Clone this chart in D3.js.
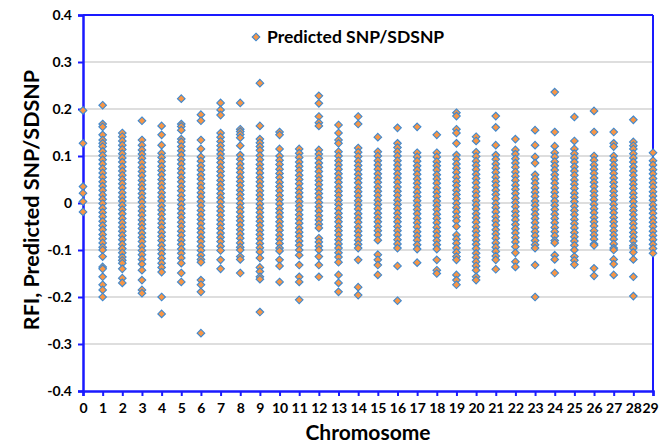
<!DOCTYPE html>
<html>
<head>
<meta charset="utf-8">
<script src="https://cdn.jsdelivr.net/npm/d3@7"></script>
<style>
  html, body { margin: 0; padding: 0; background: #fff; }
  svg text { font-family: Lato, "Open Sans", sans-serif; font-weight: bold; fill: #000; }
</style>
</head>
<body>
<svg id="chart" width="660" height="446"></svg>
<script>
// ---- Data ----
const chromosomes = [0,1,2,3,4,5,6,7,8,9,10,11,12,13,14,15,16,17,18,19,20,21,22,23,24,25,26,27,28,29];
const yTicks = [-0.4,-0.3,-0.2,-0.1,0,0.1,0.2,0.3,0.4];
const seriesName = "Predicted SNP/SDSNP";
// Predicted SNP/SDSNP values (RFI) per chromosome
const chr0  = [0.197,0.127,0.035,0.021,0.003,-0.019];
const chr1  = [0.208,0.168,0.162,0.145,0.134,0.127,0.12,0.11,0.101,0.092,0.083,0.073,0.064,0.055,0.045,0.036,0.027,0.017,0.008,-0.001,-0.011,-0.02,-0.029,-0.039,-0.048,-0.057,-0.067,-0.076,-0.085,-0.094,-0.1,-0.114,-0.136,-0.14,-0.157,-0.174,-0.185,-0.2];
const chr2  = [0.149,0.141,0.132,0.123,0.114,0.105,0.096,0.087,0.077,0.068,0.059,0.05,0.041,0.032,0.022,0.013,0.004,-0.005,-0.014,-0.023,-0.033,-0.042,-0.051,-0.06,-0.069,-0.078,-0.088,-0.097,-0.106,-0.115,-0.122,-0.128,-0.14,-0.16,-0.17];
const chr3  = [0.175,0.134,0.123,0.113,0.104,0.095,0.086,0.076,0.067,0.058,0.048,0.039,0.03,0.02,0.011,0.002,-0.008,-0.017,-0.026,-0.036,-0.045,-0.054,-0.064,-0.073,-0.082,-0.092,-0.101,-0.11,-0.12,-0.13,-0.143,-0.164,-0.185,-0.192];
const chr4  = [0.164,0.145,0.123,0.106,0.097,0.088,0.078,0.069,0.06,0.05,0.041,0.032,0.022,0.013,0.004,-0.006,-0.015,-0.024,-0.034,-0.043,-0.052,-0.062,-0.071,-0.08,-0.09,-0.099,-0.108,-0.118,-0.128,-0.137,-0.147,-0.2,-0.236];
const chr5  = [0.222,0.168,0.163,0.155,0.136,0.13,0.12,0.111,0.102,0.092,0.083,0.073,0.064,0.054,0.045,0.035,0.026,0.016,0.007,-0.003,-0.012,-0.022,-0.031,-0.041,-0.05,-0.06,-0.069,-0.079,-0.088,-0.098,-0.107,-0.117,-0.128,-0.149,-0.168];
const chr6  = [0.188,0.175,0.134,0.115,0.098,0.089,0.079,0.07,0.06,0.051,0.041,0.032,0.022,0.013,0.003,-0.006,-0.016,-0.025,-0.035,-0.044,-0.054,-0.063,-0.073,-0.082,-0.092,-0.101,-0.111,-0.12,-0.126,-0.164,-0.174,-0.189,-0.277];
const chr7  = [0.213,0.198,0.187,0.149,0.14,0.131,0.122,0.113,0.104,0.095,0.086,0.076,0.067,0.058,0.048,0.039,0.03,0.02,0.011,0.002,-0.008,-0.017,-0.026,-0.036,-0.045,-0.054,-0.064,-0.073,-0.082,-0.092,-0.101,-0.121,-0.14];
const chr8  = [0.213,0.157,0.152,0.146,0.139,0.122,0.102,0.093,0.083,0.074,0.065,0.055,0.046,0.037,0.027,0.018,0.009,-0.001,-0.01,-0.019,-0.029,-0.038,-0.047,-0.057,-0.066,-0.075,-0.085,-0.094,-0.1,-0.114,-0.12,-0.149];
const chr9  = [0.255,0.164,0.136,0.128,0.12,0.112,0.101,0.092,0.082,0.073,0.064,0.054,0.045,0.036,0.026,0.017,0.008,-0.002,-0.011,-0.02,-0.03,-0.039,-0.048,-0.058,-0.067,-0.076,-0.086,-0.095,-0.104,-0.117,-0.137,-0.146,-0.157,-0.162,-0.232];
const chr10 = [0.151,0.145,0.115,0.1,0.091,0.082,0.072,0.063,0.054,0.044,0.035,0.026,0.016,0.007,-0.002,-0.012,-0.021,-0.03,-0.04,-0.049,-0.058,-0.068,-0.077,-0.086,-0.096,-0.102,-0.121,-0.134,-0.168];
const chr11 = [0.115,0.106,0.097,0.087,0.078,0.069,0.059,0.05,0.041,0.031,0.022,0.013,0.003,-0.006,-0.015,-0.025,-0.034,-0.043,-0.053,-0.062,-0.071,-0.081,-0.09,-0.1,-0.111,-0.132,-0.157,-0.168,-0.206];
const chr12 = [0.228,0.212,0.184,0.171,0.164,0.113,0.104,0.095,0.085,0.076,0.067,0.057,0.048,0.039,0.029,0.02,0.011,0.001,-0.008,-0.017,-0.027,-0.036,-0.045,-0.053,-0.075,-0.083,-0.092,-0.1,-0.114,-0.132,-0.157];
const chr13 = [0.166,0.149,0.134,0.127,0.109,0.1,0.09,0.081,0.072,0.062,0.053,0.044,0.034,0.025,0.016,0.006,-0.003,-0.012,-0.022,-0.031,-0.04,-0.05,-0.059,-0.068,-0.078,-0.087,-0.096,-0.106,-0.115,-0.126,-0.153,-0.17,-0.189];
const chr14 = [0.184,0.168,0.117,0.108,0.099,0.089,0.08,0.071,0.061,0.052,0.043,0.033,0.024,0.015,0.005,-0.004,-0.013,-0.023,-0.032,-0.041,-0.051,-0.06,-0.069,-0.079,-0.088,-0.096,-0.121,-0.179,-0.196];
const chr15 = [0.14,0.109,0.1,0.09,0.081,0.072,0.062,0.053,0.044,0.034,0.025,0.016,0.006,-0.003,-0.012,-0.022,-0.031,-0.04,-0.05,-0.059,-0.068,-0.079,-0.11,-0.121,-0.132,-0.153];
const chr16 = [0.16,0.127,0.118,0.109,0.1,0.09,0.081,0.072,0.062,0.053,0.044,0.034,0.025,0.016,0.006,-0.003,-0.012,-0.022,-0.031,-0.04,-0.05,-0.059,-0.068,-0.078,-0.087,-0.096,-0.134,-0.208];
const chr17 = [0.162,0.107,0.098,0.089,0.079,0.07,0.061,0.051,0.042,0.033,0.023,0.014,0.005,-0.005,-0.014,-0.023,-0.033,-0.042,-0.051,-0.061,-0.07,-0.079,-0.089,-0.098,-0.127];
const chr18 = [0.145,0.107,0.098,0.088,0.079,0.07,0.06,0.051,0.042,0.032,0.023,0.014,0.004,-0.005,-0.014,-0.024,-0.033,-0.042,-0.052,-0.061,-0.07,-0.08,-0.089,-0.098,-0.121,-0.143,-0.15];
const chr19 = [0.192,0.185,0.157,0.149,0.127,0.102,0.093,0.083,0.074,0.065,0.055,0.046,0.037,0.027,0.018,0.009,-0.001,-0.01,-0.019,-0.029,-0.038,-0.05,-0.068,-0.077,-0.086,-0.096,-0.105,-0.114,-0.121,-0.153,-0.164,-0.174];
const chr20 = [0.141,0.132,0.108,0.099,0.089,0.08,0.071,0.061,0.052,0.043,0.033,0.024,0.015,0.005,-0.004,-0.013,-0.023,-0.032,-0.041,-0.051,-0.06,-0.069,-0.079,-0.088,-0.097,-0.107,-0.116,-0.125,-0.134,-0.143,-0.157,-0.164];
const chr21 = [0.185,0.161,0.123,0.102,0.093,0.083,0.074,0.065,0.055,0.046,0.037,0.027,0.018,0.009,-0.001,-0.01,-0.019,-0.029,-0.038,-0.047,-0.057,-0.066,-0.075,-0.085,-0.094,-0.103,-0.113,-0.121,-0.141];
const chr22 = [0.136,0.113,0.104,0.094,0.085,0.076,0.066,0.057,0.048,0.038,0.029,0.02,0.01,0.001,-0.008,-0.018,-0.027,-0.036,-0.046,-0.055,-0.064,-0.074,-0.083,-0.093,-0.106,-0.125,-0.136];
const chr23 = [0.155,0.123,0.098,0.085,0.06,0.051,0.042,0.032,0.023,0.014,0.004,-0.005,-0.014,-0.024,-0.033,-0.042,-0.052,-0.061,-0.07,-0.08,-0.089,-0.096,-0.132,-0.2];
const chr24 = [0.236,0.151,0.121,0.107,0.098,0.088,0.079,0.07,0.06,0.051,0.042,0.032,0.023,0.014,0.004,-0.005,-0.014,-0.024,-0.033,-0.042,-0.052,-0.061,-0.07,-0.08,-0.085,-0.111,-0.12,-0.149];
const chr25 = [0.183,0.132,0.115,0.105,0.096,0.087,0.077,0.068,0.059,0.049,0.04,0.031,0.021,0.012,0.003,-0.007,-0.016,-0.025,-0.035,-0.044,-0.053,-0.063,-0.072,-0.081,-0.09,-0.1,-0.114,-0.122,-0.131];
const chr26 = [0.196,0.151,0.1,0.091,0.081,0.072,0.063,0.053,0.044,0.035,0.025,0.016,0.007,-0.003,-0.012,-0.021,-0.031,-0.04,-0.049,-0.059,-0.068,-0.077,-0.087,-0.09,-0.139,-0.155];
const chr27 = [0.151,0.127,0.12,0.1,0.091,0.081,0.072,0.063,0.053,0.044,0.035,0.025,0.016,0.007,-0.003,-0.012,-0.021,-0.031,-0.04,-0.049,-0.059,-0.068,-0.077,-0.087,-0.096,-0.1,-0.12,-0.13,-0.153];
const chr28 = [0.177,0.13,0.122,0.115,0.105,0.096,0.087,0.077,0.068,0.059,0.049,0.04,0.031,0.021,0.012,0.003,-0.007,-0.016,-0.025,-0.035,-0.044,-0.053,-0.063,-0.072,-0.081,-0.091,-0.096,-0.105,-0.12,-0.157,-0.198];
const chr29 = [0.107,0.09,0.081,0.071,0.062,0.052,0.043,0.034,0.024,0.015,0.006,-0.004,-0.013,-0.022,-0.032,-0.041,-0.05,-0.06,-0.069,-0.078,-0.088,-0.097,-0.107];

const valuesByChromosome = [chr0,chr1,chr2,chr3,chr4,chr5,chr6,chr7,chr8,chr9,chr10,chr11,chr12,chr13,chr14,chr15,chr16,chr17,chr18,chr19,chr20,chr21,chr22,chr23,chr24,chr25,chr26,chr27,chr28,chr29];

// flatten into points
const points = [];
chromosomes.forEach((c, i) => valuesByChromosome[i].forEach(v => points.push({c, v})));

// ---- Layout ----
const W = 660, H = 446;
const margin = {left: 83, top: 15, right: 7, bottom: 55};
const iw = W - margin.left - margin.right;
const ih = H - margin.top - margin.bottom;
const axisBlue = "#1a1aff";
const fontFam = "Lato, 'Open Sans', sans-serif";

const svg = d3.select("#chart");
const g = svg.append("g").attr("transform", `translate(${margin.left},${margin.top})`);

const x = d3.scaleLinear().domain([0, 29]).range([0, iw]);
const y = d3.scaleLinear().domain([-0.4, 0.4]).range([ih, 0]);

// gridlines
g.append("g").selectAll("line")
  .data(yTicks.filter(t => t > -0.4 && t < 0.4))
  .join("line")
  .attr("x1", 0).attr("x2", iw)
  .attr("y1", d => y(d)).attr("y2", d => y(d))
  .attr("stroke", "#bdbdbd").attr("stroke-width", 1);

// frame (top & right)
g.append("line").attr("x1", 0).attr("x2", iw).attr("y1", y(0.4)).attr("y2", y(0.4))
  .attr("stroke", axisBlue).attr("stroke-width", 2);
g.append("line").attr("x1", iw).attr("x2", iw).attr("y1", 0).attr("y2", ih)
  .attr("stroke", axisBlue).attr("stroke-width", 2);

// axes
const fmt = d => d === 0 ? "0" : d.toFixed(1);
const yAxis = g.append("g").call(d3.axisLeft(y).tickValues(yTicks).tickFormat(fmt).tickSize(5).tickPadding(6));
const xAxis = g.append("g").attr("transform", `translate(0,${ih})`)
  .call(d3.axisBottom(x).tickValues(chromosomes).tickFormat(d => String(d)).tickSize(5).tickPadding(7));
[yAxis, xAxis].forEach(a => {
  a.select(".domain").attr("stroke", axisBlue).attr("stroke-width", 2.5);
  a.selectAll(".tick line").attr("stroke", axisBlue).attr("stroke-width", 2);
  a.selectAll(".tick text").attr("font-size", 14).attr("font-family", fontFam).attr("font-weight", "bold").attr("fill", "#000");
});
// keep the last chromosome label inside the window
xAxis.selectAll(".tick text").filter(d => d === 29).attr("dx", -3);

// markers
const diamond = "M0,-3.8L3.8,0L0,3.8L-3.8,0Z";
g.append("g").selectAll("path")
  .data(points)
  .join("path")
  .attr("d", diamond)
  .attr("transform", d => `translate(${x(d.c)},${y(d.v)})`)
  .attr("fill", "#f79646")
  .attr("stroke", "#3f88cf")
  .attr("stroke-width", 1.1);

// legend
const lg = svg.append("g").attr("transform", "translate(256,37)");
lg.append("path").attr("d", diamond).attr("fill", "#f79646").attr("stroke", "#3f88cf").attr("stroke-width", 1.1);
lg.append("text").attr("x", 11).attr("y", 0).attr("dy", "0.36em").attr("font-size", 17.5).text(seriesName);

// axis titles
svg.append("text").attr("x", margin.left + iw / 2).attr("y", 440).attr("text-anchor", "middle")
  .attr("font-size", 21).text("Chromosome");
svg.append("text").attr("transform", "translate(39,200) rotate(-90)").attr("text-anchor", "middle")
  .attr("font-size", 21.5).text("RFI, Predicted SNP/SDSNP");
</script>
</body>
</html>
